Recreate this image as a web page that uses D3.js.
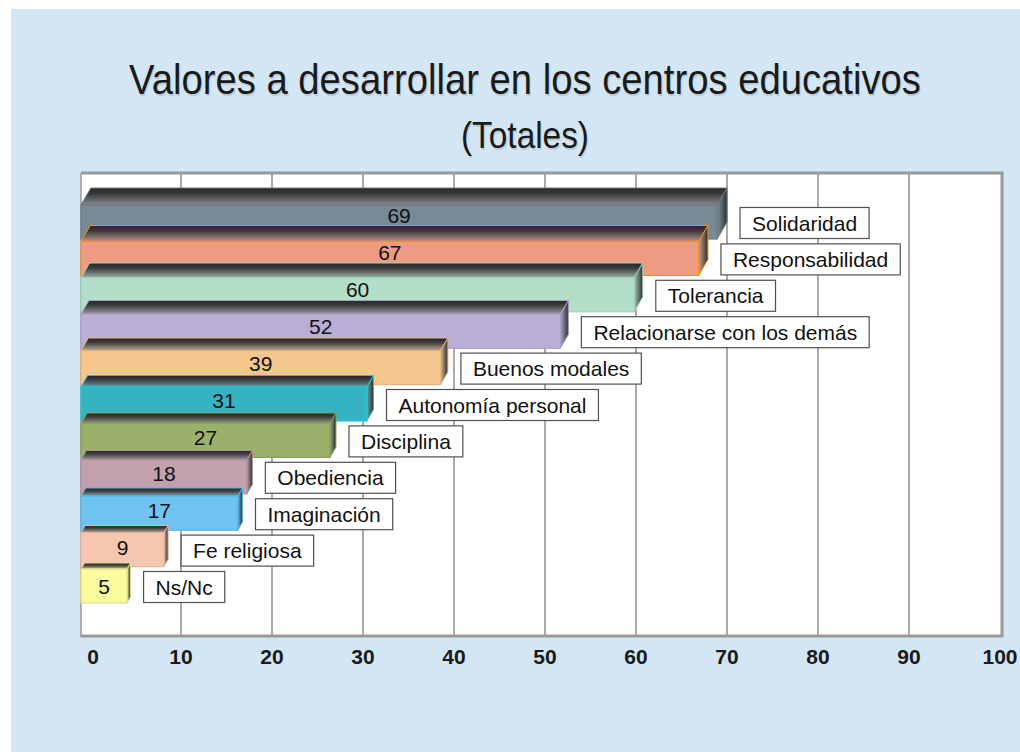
<!DOCTYPE html>
<html>
<head>
<meta charset="utf-8">
<script src="https://cdn.jsdelivr.net/npm/d3@7"></script>
<style>
  html, body { margin: 0; padding: 0; background: #ffffff; }
  svg { display: block; font-family: "Liberation Sans", Arial, sans-serif; }
</style>
</head>
<body>
<svg id="chart" width="1020" height="752"></svg>
<script>
// datos
const categories = [
  "Solidaridad", "Responsabilidad", "Tolerancia", "Relacionarse con los demás",
  "Buenos modales", "Autonomía personal", "Disciplina", "Obediencia",
  "Imaginación", "Fe religiosa", "Ns/Nc"
];
const values = [69, 67, 60, 52, 39, 31, 27, 18, 17, 9, 5];
const ticks = [0, 10, 20, 30, 40, 50, 60, 70, 80, 90, 100];
const title = "Valores a desarrollar en los centros educativos";
const subtitle = "(Totales)";

// colores de las barras
const fills = ["#788a96", "#ee9b84", "#b3dfc9", "#b9afd6", "#f6c68f", "#36b3c3",
  "#9ab06b", "#c2a0ad", "#6fc3f1", "#f7c6b1", "#fafb9c"];
const edges = ["#6a7a84", "#f39020", "#9fd4bd", "#a99ec9", "#e8b67e", "#20c4d4",
  "#8aa05d", "#b08f9c", "#4fb8ee", "#e8b6a1", "#e0e088"];

const svg = d3.select("#chart");
const defs = svg.append("defs");

const W = 1020, H = 752;
const plot = { left: 81, top: 173, right: 1002, bottom: 636 };

// fondo azul
svg.append("rect").attr("x", 11).attr("y", 9).attr("width", W - 11).attr("height", H - 9)
  .attr("fill", "#d3e6f4");

// titulos
function titleText(txt, y, size, len) {
  svg.append("text").attr("x", 526).attr("y", y + 1.5).attr("text-anchor", "middle")
    .attr("font-size", size).attr("fill", "#8e9ea9").attr("opacity", 0.35)
    .attr("textLength", len).attr("lengthAdjust", "spacingAndGlyphs").text(txt);
  svg.append("text").attr("x", 525).attr("y", y).attr("text-anchor", "middle")
    .attr("font-size", size).attr("fill", "#1a1a1a")
    .attr("textLength", len).attr("lengthAdjust", "spacingAndGlyphs").text(txt);
}
titleText(title, 94, 42, 792);
titleText(subtitle, 148, 37, 128);

// escalas
const xFront = d3.scaleLinear().domain([0, 100]).range([81, 1003]);
const xBack = d3.scaleLinear().domain([0, 100]).range([90, 1000]);
const y = d3.scaleBand().domain(categories).range([205, 205 + 36.4 * categories.length]);
const barH = 34;
const depthY = i => Math.max(3, 17 - 1.1 * i);
const depthX = i => depthY(i) * 0.58;

// area del grafico
svg.append("rect").attr("x", plot.left).attr("y", plot.top)
  .attr("width", plot.right - plot.left).attr("height", plot.bottom - plot.top)
  .attr("fill", "#ffffff");

svg.append("g").selectAll("line").data(ticks.slice(1, -1)).join("line")
  .attr("x1", d => xBack(d)).attr("x2", d => xBack(d))
  .attr("y1", plot.top).attr("y2", plot.bottom)
  .attr("stroke", "#aaaaaa").attr("stroke-width", 2);

// bordes
svg.append("line").attr("x1", plot.left).attr("x2", plot.right + 1.5)
  .attr("y1", plot.top).attr("y2", plot.top).attr("stroke", "#9a9a9a").attr("stroke-width", 3);
svg.append("line").attr("x1", plot.right).attr("x2", plot.right)
  .attr("y1", plot.top).attr("y2", plot.bottom).attr("stroke", "#9a9a9a").attr("stroke-width", 3);
svg.append("line").attr("x1", plot.left).attr("x2", plot.left)
  .attr("y1", plot.top).attr("y2", plot.bottom).attr("stroke", "#9a9a9a").attr("stroke-width", 1.5);
svg.append("line").attr("x1", plot.left - 0.75).attr("x2", plot.right + 1.5)
  .attr("y1", plot.bottom).attr("y2", plot.bottom).attr("stroke", "#9a9a9a").attr("stroke-width", 3);

// etiquetas del eje
svg.append("g").selectAll("text").data(ticks).join("text")
  .attr("x", d => d === 0 ? 93 : xBack(d))
  .attr("y", 664)
  .attr("text-anchor", "middle")
  .attr("font-size", 21).attr("font-weight", "bold").attr("fill", "#1a1a1a")
  .text(d => d);

// degradados
fills.forEach((c, i) => {
  const top = defs.append("linearGradient").attr("id", "top" + i)
    .attr("x1", 0).attr("y1", 0).attr("x2", 0).attr("y2", 1);
  top.append("stop").attr("offset", "0%").attr("stop-color", "#262626");
  top.append("stop").attr("offset", "35%").attr("stop-color", "#3c3c3c");
  top.append("stop").attr("offset", "100%").attr("stop-color", d3.interpolateRgb("#8c8c8c", c)(0.45));
  const side = defs.append("linearGradient").attr("id", "side" + i)
    .attr("x1", 0).attr("y1", 0).attr("x2", 1).attr("y2", 0);
  side.append("stop").attr("offset", "0%").attr("stop-color", d3.interpolateRgb(c, "#9a9a9a")(0.4));
  side.append("stop").attr("offset", "100%").attr("stop-color", "#2e2e2e");
});

const data = categories.map((c, i) => ({ cat: c, v: values[i], i }));

// barras 3D
const bars = svg.append("g").selectAll("g").data(data).join("g");

bars.each(function (d) {
  const g = d3.select(this);
  const x0 = xFront(0), x1 = xFront(d.v), t = y(d.cat);
  const dx = depthX(d.i), dy = depthY(d.i);
  g.append("polygon")
    .attr("points", [[x0, t], [x0 + dx, t - dy], [x1 + dx, t - dy], [x1, t]].join(" "))
    .attr("fill", `url(#top${d.i})`).attr("stroke", edges[d.i]).attr("stroke-width", 1);
  g.append("polygon")
    .attr("points", [[x1, t], [x1 + dx, t - dy], [x1 + dx, t - dy + barH], [x1, t + barH]].join(" "))
    .attr("fill", `url(#side${d.i})`).attr("stroke", edges[d.i]).attr("stroke-width", 1);
  g.append("rect").attr("x", x0).attr("y", t).attr("width", x1 - x0).attr("height", barH)
    .attr("fill", fills[d.i]).attr("stroke", edges[d.i]).attr("stroke-width", 1.2);
});

// valores (centrados en la parte visible)
svg.append("g").selectAll("text").data(data).join("text")
  .attr("x", d => (xFront(0) + xFront(d.v)) / 2)
  .attr("y", d => {
    const t = y(d.cat);
    const next = d.i < categories.length - 1 ? y(categories[d.i + 1]) - depthY(d.i + 1) : t + barH;
    return (t + Math.min(next, t + barH)) / 2;
  })
  .attr("dy", "0.36em")
  .attr("text-anchor", "middle")
  .attr("font-size", 21).attr("fill", "#111")
  .text(d => d.v);

// etiquetas de categoria
const labels = svg.append("g").selectAll("g").data(data).join("g");
labels.each(function (d) {
  const g = d3.select(this);
  const left = xFront(d.v) + depthX(d.i) + 13;
  const cy = y(d.cat) + barH / 2 + 1;
  const rect = g.append("rect").attr("fill", "#ffffff").attr("stroke", "#505050")
    .attr("stroke-width", 1.2);
  const txt = g.append("text").attr("y", cy).attr("dy", "0.36em")
    .attr("font-size", 21).attr("fill", "#111").text(d.cat);
  const w = txt.node().getComputedTextLength();
  txt.attr("x", left + 12);
  rect.attr("x", left).attr("y", cy - 15.5).attr("width", w + 24).attr("height", 31);
});
</script>
</body>
</html>
